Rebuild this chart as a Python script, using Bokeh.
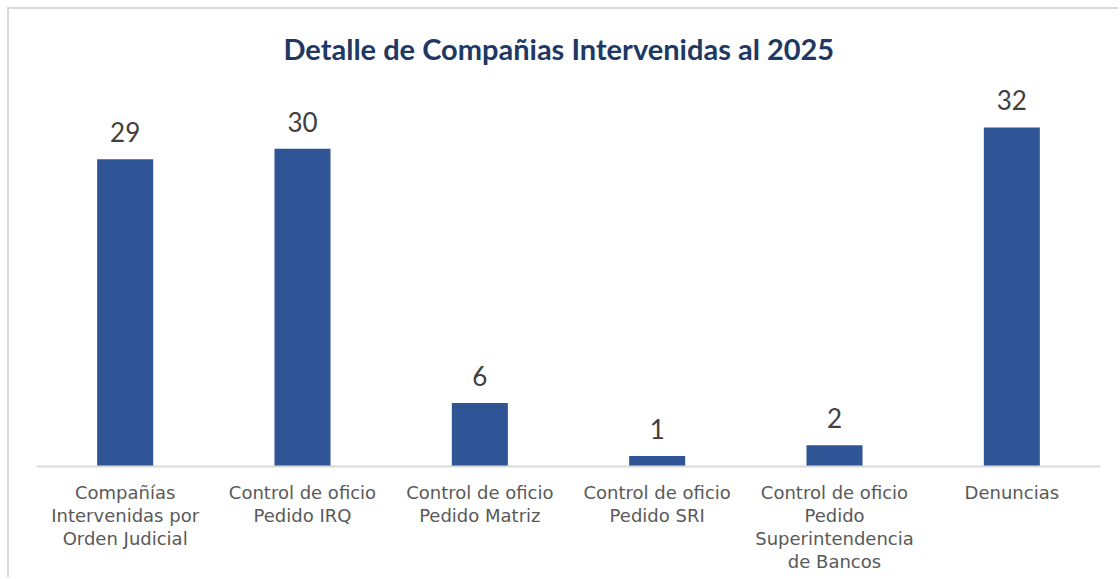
from bokeh.plotting import figure
from bokeh.models import ColumnDataSource, FactorRange, Range1d
from bokeh.embed import file_html
from bokeh.resources import INLINE
from bokeh.core.properties import value

title_text = "Detalle de Compañias Intervenidas al 2025"
categories = [
    "Compañías\nIntervenidas por\nOrden Judicial",
    "Control de oficio\nPedido IRQ",
    "Control de oficio\nPedido Matriz",
    "Control de oficio\nPedido SRI",
    "Control de oficio\nPedido\nSuperintendencia\nde Bancos",
    "Denuncias",
]
values = [29, 30, 6, 1, 2, 32]

src = ColumnDataSource(dict(cat=categories, val=values, lab=[str(v) for v in values]))

p = figure(
    width=1111, height=570,
    x_range=FactorRange(*categories, range_padding=0),
    y_range=Range1d(0, 37),
    output_backend="svg", toolbar_location=None,
    min_border_left=27, min_border_right=20,
    min_border_top=65, min_border_bottom=113,
)
p.styles = {"margin-left": "7px", "margin-top": "7px",
            "border-left": "2px solid #d9d9d9", "border-top": "2px solid #d9d9d9"}

p.title.text = title_text
p.title.align = "left"
p.title.text_font = "Lato"
p.title.text_font_style = "bold"
p.title.text_font_size = "29px"
p.title.text_color = "#203864"
p.title.standoff = 17
p.title.offset = 247

p.vbar(x="cat", top="val", width=0.316, source=src, fill_color="#2F5597", line_color=None)
p.text(x="cat", y="val", text="lab", source=src, text_align="center",
       text_baseline="alphabetic", y_offset=-27, text_font=value("Lato"),
       text_font_size="26px", text_color="#404040")

p.yaxis.visible = False
p.ygrid.visible = False
p.xgrid.visible = False
p.outline_line_color = None

ax = p.xaxis[0]
ax.axis_line_color = "#d9d9d9"
ax.axis_line_width = 2
ax.major_tick_line_color = None
ax.minor_tick_line_color = None
ax.major_label_standoff = 9
ax.major_label_text_font = "DejaVu Sans"
ax.major_label_text_font_size = "18px"
ax.major_label_text_line_height = 1.1
ax.major_label_text_color = "#595959"
ax.major_label_orientation = "horizontal"

open("out.html", "w").write(file_html(p, INLINE))
